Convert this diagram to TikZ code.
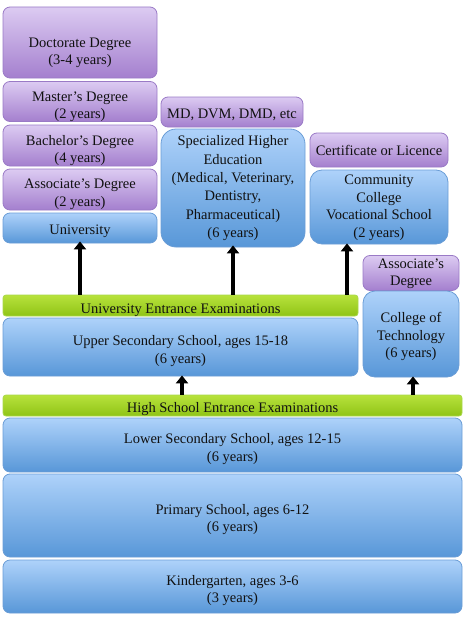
\documentclass[tikz,border=0pt]{standalone}
\usepackage{fontspec}
\setmainfont{Liberation Serif}
\usetikzlibrary{arrows.meta}
\definecolor{pTop}{HTML}{DCCBF2}
\definecolor{pBot}{HTML}{A47FCE}
\definecolor{pLine}{HTML}{9A7AC6}
\definecolor{bTop}{HTML}{AED2FA}
\definecolor{bBot}{HTML}{5897D8}
\definecolor{bLine}{HTML}{6A9DD6}
\definecolor{gTop}{HTML}{B8E23C}
\definecolor{gBot}{HTML}{8FC416}
\definecolor{gLine}{HTML}{A8D84A}
\definecolor{txt}{HTML}{111111}
\newcommand\tx[2][4pt]{\raisebox{-#1}[\height][\depth]{\begin{tabular}{@{}c@{}}#2\end{tabular}}}
\tikzset{
  base/.style={rounded corners=7pt, line width=0.8pt, align=center, inner sep=0pt,
    text=txt, font=\fontsize{14.5}{17.5}\selectfont},
  pbox/.style={base, draw=pLine, top color=pTop, bottom color=pBot},
  bbox/.style={base, draw=bLine, top color=bTop, bottom color=bBot},
  gbox/.style={base, rounded corners=3pt, draw=gLine, top color=gTop, bottom color=gBot},
  arr/.style={line width=4.5pt, -{Triangle[width=12pt,length=8pt]}, black}
}
\begin{document}
\begin{tikzpicture}[x=1pt,y=-1pt]
\useasboundingbox (0,0) rectangle (466,618);
% left column
\node[pbox, minimum width=154, minimum height=71] (doc) at (80,42.5) {\tx[10pt]{Doctorate Degree\\(3-4 years)}};
\node[pbox, minimum width=154, minimum height=40] (mas) at (80,101.5) {\tx[5pt]{Master’s Degree\\(2 years)}};
\node[pbox, minimum width=154, minimum height=41] (bac) at (80,145.5) {\tx[5pt]{Bachelor’s Degree\\(4 years)}};
\node[pbox, minimum width=154, minimum height=41] (asc) at (80,189.5) {\tx[4.5pt]{Associate’s Degree\\(2 years)}};
\node[bbox, minimum width=154, minimum height=30] (univ) at (80,228) {\tx[3pt]{University}};
% middle column
\node[pbox, minimum width=142, minimum height=30] (md) at (232,112) {\tx[3pt]{MD, DVM, DMD, etc}};
\node[bbox, rounded corners=15pt, minimum width=144, minimum height=118, font=\fontsize{14.5}{18.3}\selectfont] (spec) at (233,188) {\tx[0pt]{Specialized Higher\\Education\\(Medical, Veterinary,\\Dentistry,\\Pharmaceutical)\\(6 years)}};
% right column
\node[pbox, minimum width=138, minimum height=34] (cert) at (379,150) {\tx[2pt]{Certificate or Licence}};
\node[bbox, rounded corners=12pt, minimum width=138, minimum height=74] (comm) at (379,207) {\tx[0.5pt]{Community\\College\\Vocational School\\(2 years)}};
% exams and secondary
\node[gbox, minimum width=355, minimum height=21] (uee) at (180.5,305.5) {\tx[4pt]{University Entrance Examinations}};
\node[bbox, minimum width=355, minimum height=58] (upper) at (180.5,347) {\tx[4pt]{Upper Secondary School, ages 15-18\\(6 years)}};
\node[pbox, minimum width=96, minimum height=32] (asc2) at (411,273) {\tx[0.5pt]{Associate’s\\Degree}};
\node[bbox, rounded corners=12pt, minimum width=96, minimum height=86] (cot) at (411,334) {\tx[2.5pt]{College of\\Technology\\(6 years)}};
\node[gbox, minimum width=459, minimum height=21] (hse) at (232.5,405.5) {\tx[3pt]{High School Entrance Examinations}};
\node[bbox, minimum width=459, minimum height=54] (lower) at (232.5,445) {\tx[4pt]{Lower Secondary School, ages 12-15\\(6 years)}};
\node[bbox, minimum width=459, minimum height=83] (prim) at (232.5,515.5) {\tx[4pt]{Primary School, ages 6-12\\(6 years)}};
\node[bbox, minimum width=459, minimum height=53] (kind) at (232.5,586.5) {\tx[4pt]{Kindergarten, ages 3-6\\(3 years)}};
% arrows
\coordinate (a3) at (347,0);
\draw[arr] (uee.north -| univ) -- ([yshift=2pt]univ.south);
\draw[arr] (uee.north -| spec) -- ([yshift=2pt]spec.south);
\draw[arr] (uee.north -| a3) -- ([yshift=1pt]comm.south -| a3);
\draw[arr] (hse.north -| 182,0) -- ([yshift=1pt]upper.south -| 182,0);
\draw[arr] (hse.north -| 413,0) -- ([yshift=1pt]cot.south -| 413,0);
\end{tikzpicture}
\end{document}
